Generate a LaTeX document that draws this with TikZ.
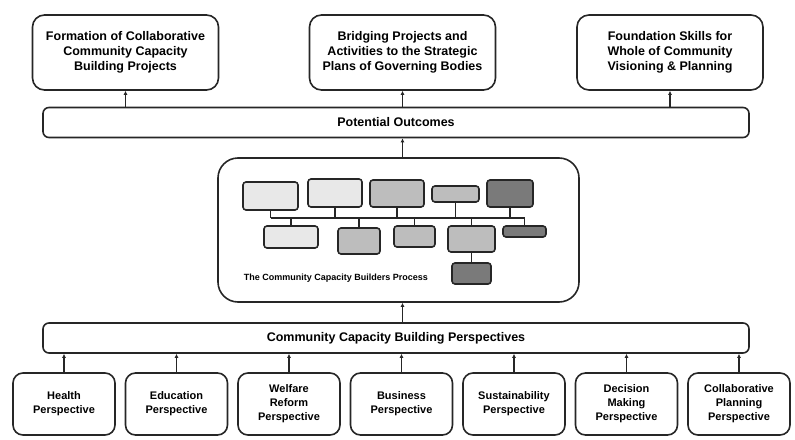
\documentclass[tikz,border=0pt]{standalone}
\usepackage{fontspec}
\setmainfont{Liberation Sans}
\usetikzlibrary{arrows.meta}

\begin{document}
\begin{tikzpicture}[x=1pt,y=-1pt,line width=1.6pt,
    outcome/.style={draw=black!85, rounded corners=12pt, minimum width=186pt, minimum height=75pt, align=center, font=\bfseries\fontsize{12.5}{15}\selectfont},
    bar/.style={draw=black!85, rounded corners=6pt, minimum width=706pt, minimum height=30pt, font=\bfseries\fontsize{12.5}{15}\selectfont},
    persp/.style={draw=black!85, rounded corners=10pt, minimum width=102pt, minimum height=62pt, align=center, font=\bfseries\fontsize{11}{14}\selectfont},
    mini/.style={draw=black!85, line width=1.6pt, rounded corners=3pt, inner sep=0pt},
    up/.style={-{Latex[length=4pt,width=4pt]}, line width=1.3pt, draw=black!85}]
      \useasboundingbox (0,0) rectangle (795,439);
      % outcomes
      \node[outcome] (o1) at (125.5,52.5) {Formation of Collaborative\\Community Capacity\\Building Projects};
      \node[outcome] (o2) at (402.5,52.5) {Bridging Projects and\\Activities to the Strategic\\Plans of Governing Bodies};
      \node[outcome] (o3) at (670,52.5) {Foundation Skills for\\Whole of Community\\Visioning \& Planning};
      \node[bar] (po) at (396,122.5) {Potential Outcomes};
      % process
      \node[draw=black!85, rounded corners=20pt, minimum width=361pt, minimum height=144pt] (proc) at (398.5,230) {};
      \node[mini, fill=black!9, minimum width=55pt, minimum height=28pt] (b1) at (270.5,196) {};
      \node[mini, fill=black!9, minimum width=54pt, minimum height=28pt] (b2) at (335,193) {};
      \node[mini, fill=black!26, minimum width=54pt, minimum height=27pt] (b3) at (397,193.5) {};
      \node[mini, fill=black!26, minimum width=47pt, minimum height=16pt] (b4) at (455.5,194) {};
      \node[mini, fill=black!52, minimum width=46pt, minimum height=27pt] (b5) at (510,193.5) {};
      \node[mini, fill=black!9, minimum width=54pt, minimum height=22pt] (c1) at (291,237) {};
      \node[mini, fill=black!26, minimum width=42pt, minimum height=26pt] (c2) at (359,241) {};
      \node[mini, fill=black!26, minimum width=41pt, minimum height=21pt] (c3) at (414.5,236.5) {};
      \node[mini, fill=black!26, minimum width=47pt, minimum height=26pt] (c4) at (471.5,239) {};
      \node[mini, fill=black!52, minimum width=43pt, minimum height=11pt] (c5) at (524.5,231.5) {};
      \node[mini, fill=black!52, minimum width=39pt, minimum height=21pt] (d1) at (471.5,273.5) {};
      \coordinate (busL) at (270.5,218);
      \coordinate (busR) at (524.5,218);
      \draw[line width=1.5pt, black!85] (busL) -- (busR);
      \foreach \n in {b1,b2,b3,b4,b5}
        \draw[line width=1.5pt, black!85] (\n.south) -- (\n.south |- busL);
      \foreach \n in {c1,c2,c3,c4,c5}
        \draw[line width=1.5pt, black!85] (\n.north) -- (\n.north |- busL);
      \draw[line width=1.5pt, black!85] (c4.south) -- (d1.north);
      \node[anchor=west, inner sep=0pt, font=\bfseries\fontsize{9}{11}\selectfont] (title) at (243,278) {The Community Capacity Builders Process};
      % perspectives
      \node[bar] (ccbp) at (396,338) {Community Capacity Building Perspectives};
      \node[persp] (p1) at (64,404) {Health\\Perspective};
      \node[persp] (p2) at (176.5,404) {Education\\Perspective};
      \node[persp] (p3) at (289,404) {Welfare\\Reform\\Perspective};
      \node[persp] (p4) at (401.5,404) {Business\\Perspective};
      \node[persp] (p5) at (514,404) {Sustainability\\Perspective};
      \node[persp] (p6) at (626.5,404) {Decision\\Making\\Perspective};
      \node[persp] (p7) at (739,404) {Collaborative\\Planning\\Perspective};
      % arrows
      \foreach \n in {p1,p2,p3,p4,p5,p6,p7}
        \draw[up] (\n.north) -- (\n.north |- ccbp.south);
      \draw[up] (ccbp.north -| o2) -- (o2 |- proc.south);
      \draw[up] (proc.north -| o2) -- (o2 |- po.south);
      \foreach \n in {o1,o2,o3}
        \draw[up] (po.north -| \n) -- (\n.south);
\end{tikzpicture}
\end{document}
